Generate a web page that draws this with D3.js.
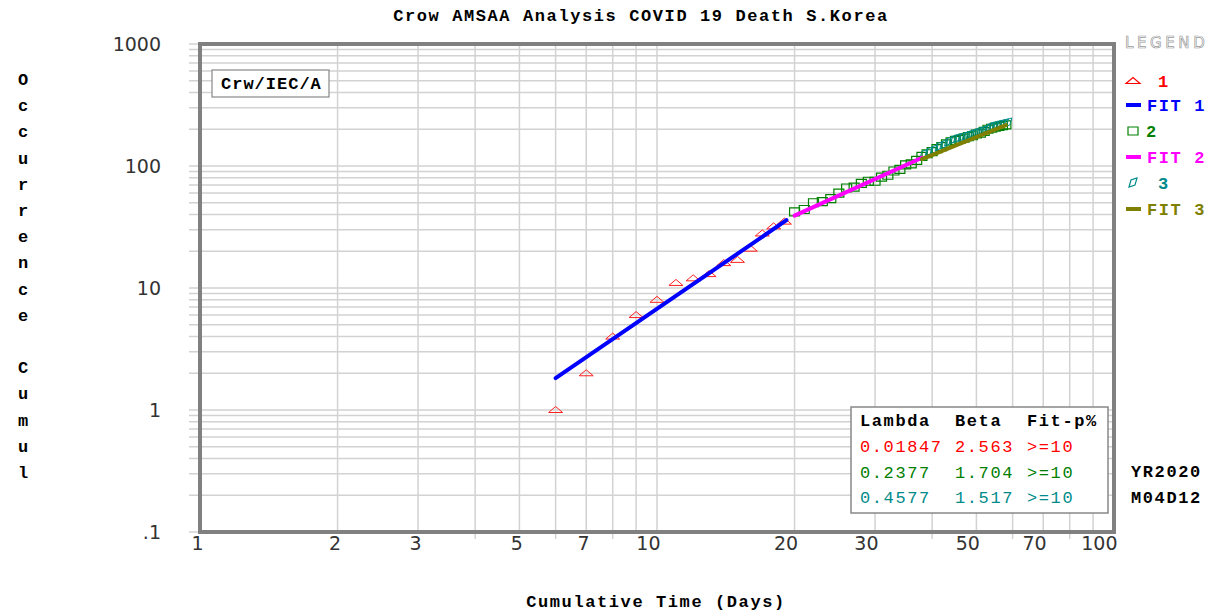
<!DOCTYPE html>
<html>
<head>
<meta charset="utf-8">
<script src="https://cdn.jsdelivr.net/npm/d3@7"></script>
<style>
  body { margin: 0; background: #fff; }
  svg { display: block; }
  .mono { font-family: "Liberation Mono", "Courier New", monospace; font-weight: bold; letter-spacing: 1.6px; }
  .tick text { font-family: "DejaVu Sans", Verdana, sans-serif; fill: #333; }
</style>
</head>
<body>
<svg id="chart"></svg>
<script>
const w = 1212;
const h = 613;

// series 1 (red triangles)
const days1 = [6, 7, 8, 9, 10, 11, 12, 13, 14, 15, 16, 17, 18, 19];
const deaths1 = [1, 2, 4, 6, 8, 11, 12, 13, 16, 17, 21, 28, 32, 35];
// series 2 (green squares)
const days2 = [20, 21, 22, 23, 24, 25, 26, 27, 28, 29, 30, 31, 32, 33, 34, 35, 36, 37, 38,
  39, 40, 41, 42, 43, 44, 45, 46, 47, 48, 49, 50, 51, 52, 53, 54, 55, 56, 57, 58];
const deaths2 = [42, 44, 50, 51, 54, 60, 66, 67, 72, 75, 75, 81, 84, 91, 94, 102, 104, 111, 120,
  126, 131, 139, 144, 152, 158, 162, 165, 169, 174, 177, 183, 186, 192, 200, 204, 208, 211, 214, 217];
// series 3 (teal parallelograms)
const days3 = [38, 39, 40, 41, 42, 43, 44, 45, 46, 47, 48, 49, 50, 51, 52, 53, 54, 55, 56, 57, 58];
const deaths3 = [120, 126, 131, 139, 144, 152, 158, 162, 165, 169, 174, 177, 183, 186, 192, 200, 204, 208, 211, 214, 217];

// fit parameters (Crow AMSAA: N = lambda * t^beta)
const lambdas = [0.01847, 0.2377, 0.4577];
const betas = [2.563, 1.704, 1.517];
const fitRanges = [[6, 19.2], [20, 38], [38, 58]];
const fitLabels = ["0.01847", "0.2377", "0.4577"];
const betaLabels = ["2.563", "1.704", "1.517"];
const pLabels = [">=10", ">=10", ">=10"];

const xLabels = [1, 2, 3, 5, 7, 10, 20, 30, 50, 70, 100];
const xGrid = [1, 2, 3, 4, 5, 6, 7, 8, 9, 10, 20, 30, 40, 50, 60, 70, 80, 90, 100];
const xTickOnly = [4, 6, 8, 40, 60, 80];
const yLabels = [0.1, 1, 10, 100, 1000];

const plotLeft = 200, plotRight = 1114, plotTop = 44, plotBottom = 532;

const svg = d3.select("#chart").attr("width", w).attr("height", h);

const xScale = d3.scaleLog().domain([1, 100]).range([plotLeft, plotRight]);
const yScale = d3.scaleLog().domain([0.1, 1000]).range([plotBottom, plotTop]);

const yGrid = [];
[0.1, 1, 10, 100].forEach((dec) => {
  for (let k = 1; k < 10; k++) yGrid.push(dec * k);
});
yGrid.push(1000);

// grid
const grid = svg.append("g").attr("stroke", "#d2d2d2").attr("stroke-width", 1.5);
grid.selectAll("line.v")
  .data(xGrid)
  .enter()
  .append("line")
  .attr("x1", (d) => xScale(d))
  .attr("x2", (d) => xScale(d))
  .attr("y1", plotTop)
  .attr("y2", (d) => (xTickOnly.includes(d) ? plotBottom + 7 : plotBottom));
grid.selectAll("line.h")
  .data(yGrid)
  .enter()
  .append("line")
  .attr("x1", plotLeft - 11)
  .attr("x2", plotRight)
  .attr("y1", (d) => yScale(d))
  .attr("y2", (d) => yScale(d));

// axes labels via d3 axes
const xAxis = d3.axisBottom(xScale).tickValues(xLabels).tickFormat(d3.format("d")).tickSize(0).tickPadding(5);
svg.append("g")
  .attr("transform", "translate(0," + plotBottom + ")")
  .call(xAxis)
  .call((g) => g.select(".domain").remove())
  .selectAll("text")
  .attr("text-anchor", "end")
  .attr("dx", 3)
  .style("font-size", "19px");

const yAxis = d3.axisLeft(yScale).tickValues(yLabels)
  .tickFormat((d) => (d < 1 ? ".1" : d3.format("d")(d)))
  .tickSize(0).tickPadding(39);
svg.append("g")
  .attr("transform", "translate(" + plotLeft + ",0)")
  .call(yAxis)
  .call((g) => g.select(".domain").remove())
  .selectAll("text")
  .style("font-size", "19px");

// frame
svg.append("rect")
  .attr("x", plotLeft)
  .attr("y", plotTop)
  .attr("width", plotRight - plotLeft)
  .attr("height", plotBottom - plotTop)
  .attr("fill", "none")
  .attr("stroke", "#808080")
  .attr("stroke-width", 4);

// markers
const triPath = "M-7,2.5 L7,2.5 L0,-3.5 Z";
const sqPath = "M-5,-4 L5,-4 L5,4 L-5,4 Z";
const paraPath = "M-4,4 L-2,-3 L4,-5 L2,2 Z";

const toPts = (xs, ys) => xs.map((d, i) => ({ x: d, y: ys[i] }));

svg.append("g").selectAll("path")
  .data(toPts(days1, deaths1))
  .enter()
  .append("path")
  .attr("d", triPath)
  .attr("transform", (d) => "translate(" + xScale(d.x) + "," + yScale(d.y) + ")")
  .attr("fill", "none")
  .attr("stroke", "#ff2020")
  .attr("stroke-width", 1);

svg.append("g").selectAll("path")
  .data(toPts(days2, deaths2))
  .enter()
  .append("path")
  .attr("d", sqPath)
  .attr("transform", (d) => "translate(" + xScale(d.x) + "," + yScale(d.y) + ")")
  .attr("fill", "none")
  .attr("stroke", "#008000")
  .attr("stroke-width", 1.2);

svg.append("g").selectAll("path")
  .data(toPts(days3, deaths3))
  .enter()
  .append("path")
  .attr("d", paraPath)
  .attr("transform", (d) => "translate(" + (xScale(d.x) + 2) + "," + (yScale(d.y) - 2) + ")")
  .attr("fill", "none")
  .attr("stroke", "#008b8b")
  .attr("stroke-width", 1);

// fit lines
const fitColors = ["#0000ff", "#ff00ff", "#808000"];
const line = d3.line().x((d) => xScale(d[0])).y((d) => yScale(d[1]));
fitRanges.forEach((r, i) => {
  const pts = r.map((t) => [t, lambdas[i] * Math.pow(t, betas[i])]);
  svg.append("path")
    .attr("d", line(pts))
    .attr("fill", "none")
    .attr("stroke", fitColors[i])
    .attr("stroke-width", 4)
    .attr("stroke-linecap", "round");
});

// title & axis titles
svg.append("text")
  .attr("class", "mono")
  .attr("x", 641)
  .attr("y", 21)
  .attr("text-anchor", "middle")
  .style("font-size", "17px")
  .text("Crow AMSAA Analysis COVID 19 Death S.Korea");

svg.append("text")
  .attr("class", "mono")
  .attr("x", 656)
  .attr("y", 607)
  .attr("text-anchor", "middle")
  .style("font-size", "17px")
  .text("Cumulative Time (Days)");

const yTitle = "Occurrence Cumul".split("");
svg.append("g").selectAll("text")
  .data(yTitle)
  .enter()
  .append("text")
  .attr("class", "mono")
  .attr("x", 24)
  .attr("y", (d, i) => 85 + i * 26.2)
  .attr("text-anchor", "middle")
  .style("font-size", "17px")
  .text((d) => d);

// Crw/IEC/A box
svg.append("rect")
  .attr("x", 212).attr("y", 70).attr("width", 117).attr("height", 27)
  .attr("fill", "#fff").attr("stroke", "#888").attr("stroke-width", 1.2);
svg.append("text")
  .attr("class", "mono")
  .attr("x", 221).attr("y", 89)
  .style("font-size", "17px")
  .style("letter-spacing", "1px")
  .text("Crw/IEC/A");

// parameter table
svg.append("rect")
  .attr("x", 851).attr("y", 407).attr("width", 257).attr("height", 106)
  .attr("fill", "#fff").attr("stroke", "#888").attr("stroke-width", 1.5);
const colX = [860, 955, 1027];
["Lambda", "Beta", "Fit-p%"].forEach((t, i) => {
  svg.append("text").attr("class", "mono")
    .attr("x", colX[i]).attr("y", 426)
    .style("font-size", "17px")
    .text(t);
});
const tableColors = ["#ff0000", "#008000", "#008b8b"];
fitLabels.forEach((l, i) => {
  [l, betaLabels[i], pLabels[i]].forEach((t, j) => {
    svg.append("text").attr("class", "mono")
      .attr("x", colX[j]).attr("y", 452 + i * 25.5)
      .style("font-size", "17px")
      .style("font-weight", "normal")
      .attr("fill", tableColors[i])
      .text(t);
  });
});

// legend
svg.append("text")
  .attr("x", 1125).attr("y", 48)
  .style("font-family", "DejaVu Sans, sans-serif")
  .style("font-size", "15px")
  .style("font-weight", "normal")
  .style("letter-spacing", "3.6px")
  .attr("fill", "#fff")
  .attr("stroke", "#9a9a9a")
  .attr("stroke-width", 0.7)
  .text("LEGEND");

const legendItems = [
  { kind: "tri", label: "1", color: "#ff0000", y: 81, tx: 1158 },
  { kind: "line", label: "FIT 1", color: "#0000ff", y: 105, tx: 1147 },
  { kind: "sq", label: "2", color: "#008000", y: 131, tx: 1146 },
  { kind: "line", label: "FIT 2", color: "#ff00ff", y: 157, tx: 1147 },
  { kind: "para", label: "3", color: "#008b8b", y: 183, tx: 1158 },
  { kind: "line", label: "FIT 3", color: "#808000", y: 209, tx: 1147 },
];
const lg = svg.append("g");
legendItems.forEach((it) => {
  if (it.kind === "line") {
    lg.append("line")
      .attr("x1", 1126).attr("x2", 1141)
      .attr("y1", it.y).attr("y2", it.y)
      .attr("stroke", it.color).attr("stroke-width", 4);
  } else {
    const p = it.kind === "tri" ? triPath : it.kind === "sq" ? sqPath : paraPath;
    lg.append("path")
      .attr("d", p)
      .attr("transform", "translate(1133," + it.y + ")")
      .attr("fill", "none")
      .attr("stroke", it.color)
      .attr("stroke-width", 1.2);
  }
  lg.append("text").attr("class", "mono")
    .attr("x", it.tx).attr("y", it.y + 6)
    .style("font-size", "17px")
    .attr("fill", it.color)
    .text(it.label);
});

// date stamp
svg.append("text").attr("class", "mono")
  .attr("x", 1131).attr("y", 477)
  .style("font-size", "17px")
  .text("YR2020");
svg.append("text").attr("class", "mono")
  .attr("x", 1131).attr("y", 503)
  .style("font-size", "17px")
  .text("M04D12");
</script>
</body>
</html>
